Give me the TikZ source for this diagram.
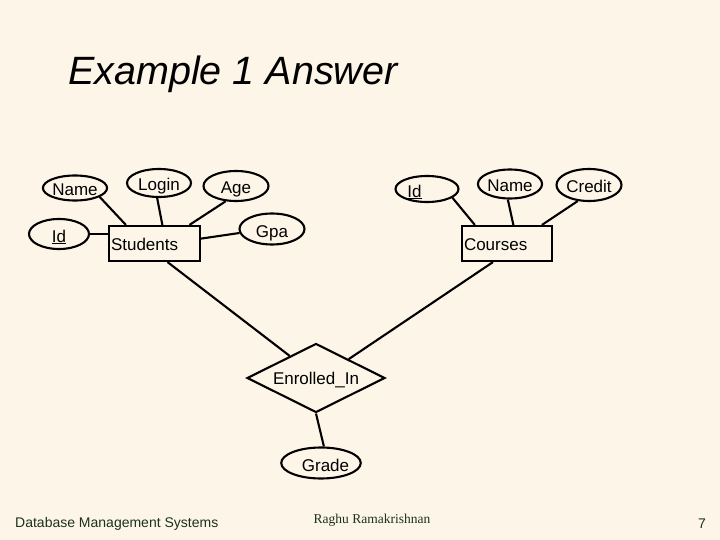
\documentclass[tikz,border=0pt]{standalone}
\usepackage{fontspec}
\setmainfont{Liberation Sans}
\newfontfamily\tnrfont{Liberation Serif}
\usetikzlibrary{shapes.geometric}
\definecolor{bgcream}{RGB}{254,245,233}
\definecolor{footgreen}{RGB}{26,51,26}
\begin{document}
\begin{tikzpicture}[x=1pt,y=-1pt,
  attr/.style={draw, ellipse, line width=2.1pt, inner sep=0pt, text height=16pt, text depth=0pt, font=\fontsize{17}{20}\selectfont},
  ent/.style={draw, rectangle, line width=2.1pt, inner xsep=2pt, inner ysep=0pt, minimum height=35pt, text height=14pt, text depth=0pt, align=left, font=\fontsize{17}{20}\selectfont},
  rel/.style={draw, diamond, aspect=2, line width=2.1pt, inner sep=0pt, text height=12.2pt, text depth=0pt, font=\fontsize{17}{20}\selectfont},
  conn/.style={line width=2.1pt},
  foot/.style={inner sep=0pt, text=footgreen}]
\fill[bgcream] (0,0) rectangle (720,540);
\useasboundingbox (0,0) rectangle (720,540);

\node[anchor=base west, inner sep=0pt, font=\fontsize{39.5}{45}\selectfont\itshape] (title) at (68,85) {Example 1 Answer};

% Students side
\node[attr, minimum width=64pt, minimum height=25pt] (sname) at (75,188) {Name};
\node[attr, minimum width=64pt, minimum height=28pt] (login) at (159,183) {Login};
\node[attr, minimum width=65pt, minimum height=30pt] (age) at (236,186) {Age};
\node[attr, minimum width=60pt, minimum height=30pt] (sid) at (59,234) {\underline{Id}};
\node[attr, minimum width=65pt, minimum height=31pt] (gpa) at (272,229) {Gpa};
\node[ent, text width=87pt] (students) at (154.5,243.5) {Students};

% Courses side
\node[attr, minimum width=63pt, minimum height=26pt] (cid) at (427,189) {\underline{Id}\hspace*{25pt}};
\node[attr, minimum width=64pt, minimum height=29pt] (cname) at (510,184) {Name};
\node[attr, minimum width=65pt, minimum height=32pt] (credit) at (589,185) {Credit};
\node[ent, text width=86pt] (courses) at (507,243.5) {Courses};

% Relationship
\node[rel, minimum width=138pt, minimum height=69pt] (enr) at (316,378) {Enrolled\_In};
\node[attr, minimum width=64pt, minimum height=31pt] (grade) at (321,463) {\hspace*{9pt}Grade};

% Connectors
\draw[conn] (sname.-20) -- (students.147);
\draw[conn] (login.-97) -- (students.67);
\draw[conn] (age.-124) -- (students.28);
\draw[conn] (sid) -- (sid -| students.west);
\draw[conn] (gpa.187) -- (students.6);
\draw[conn] (students.-55) -- (enr.140);
\draw[conn] (courses.-127) -- (enr.30);
\draw[conn] (enr.south) -- (grade.80);
\draw[conn] (cid.-19) -- (courses.150);
\draw[conn] (cname.-98) -- (courses.71);
\draw[conn] (credit.-125) -- (courses.28);

% Footer
\node[foot, anchor=base west, font=\fontsize{14}{16}\selectfont] (foot1) at (15,527) {Database Management Systems};
\node[foot, anchor=base, font=\tnrfont\fontsize{13.5}{16}\selectfont] (foot2) at (372,523) {Raghu Ramakrishnan};
\node[foot, anchor=base, font=\fontsize{14}{16}\selectfont] (pagenum) at (702,528) {7};
\end{tikzpicture}
\end{document}
